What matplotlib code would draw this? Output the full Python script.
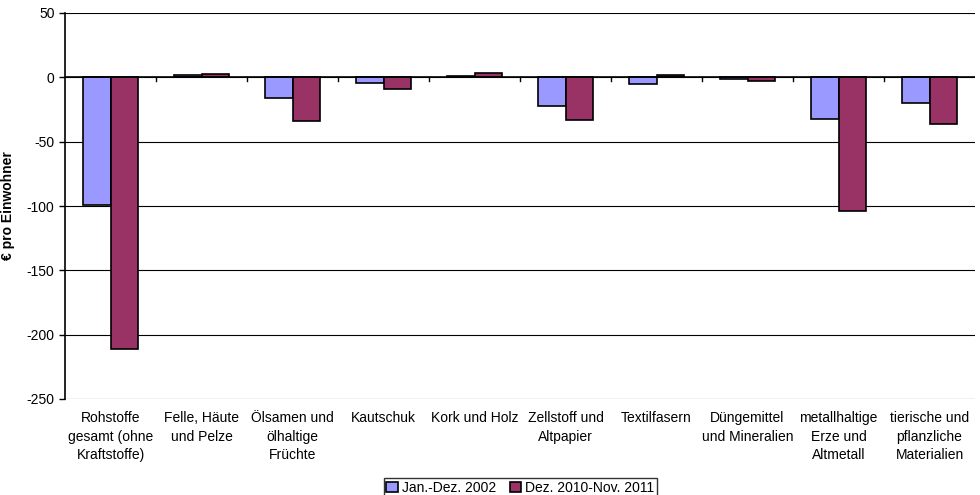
import numpy as np
import matplotlib.pyplot as plt

categories = ['Rohstoffe\ngesamt (ohne\nKraftstoffe)', 'Felle, Häute\nund Pelze',
              'Ölsamen und\nölhaltige\nFrüchte', 'Kautschuk', 'Kork und Holz',
              'Zellstoff und\nAltpapier', 'Textilfasern', 'Düngemittel\nund Mineralien',
              'metallhaltige\nErze und\nAltmetall', 'tierische und\npflanzliche\nMaterialien']
jan_2002 = [-99, 1.5, -16, -4.5, 1, -22, -5, -1.5, -32, -20]
dez_2010 = [-211, 2.5, -34, -9, 3, -33, 2, -2.5, -104, -36]

plt.rcParams['font.family'] = ['Liberation Sans', 'DejaVu Sans']
plt.rcParams['axes.unicode_minus'] = False
fig = plt.figure(figsize=(9.8, 4.95), dpi=100)
ax = fig.add_axes([65/980, 1-399/495, 910/980, 386/495])

x = np.arange(len(categories))
w = 0.3
ax.bar(x - w/2, jan_2002, w, color='#9999FF', edgecolor='black', linewidth=1.2,
       label='Jan.-Dez. 2002', zorder=3)
ax.bar(x + w/2, dez_2010, w, color='#993366', edgecolor='black', linewidth=1.2,
       label='Dez. 2010-Nov. 2011', zorder=3)

ax.set_ylim(-250, 50)
ax.set_xlim(-0.5, len(categories) - 0.5)
ax.set_yticks(np.arange(-250, 51, 50))
ax.yaxis.grid(True, color='black', linewidth=0.8)
ax.set_axisbelow(True)
for s in ['top', 'right', 'bottom']:
    ax.spines[s].set_visible(False)
ax.spines['left'].set_linewidth(1.2)
ax.axhline(0, color='black', linewidth=1.2, zorder=4)
ax.tick_params(axis='y', labelsize=10, length=4, width=1)
ax.set_ylabel('€ pro Einwohner', fontsize=10, fontweight='bold', labelpad=8)

# category labels below the plot, boundary ticks on the zero line
ax.set_xticks([])
for i, c in enumerate(categories):
    ax.text(i, -259, c, ha='center', va='top', fontsize=10, linespacing=1.45)
for b in np.arange(0.5, len(categories) - 0.5):
    ax.plot([b, b], [0, -2.5], color='black', linewidth=1, zorder=4, clip_on=False)

leg = fig.legend(loc='upper center', bbox_to_anchor=(0.531, 1 - 471/495), ncol=2, fontsize=10,
                 frameon=True, fancybox=False, edgecolor='black', handlelength=0.8,
                 handleheight=0.8, handletextpad=0.3, columnspacing=1.0, borderpad=0.2)
leg.get_frame().set_linewidth(1)

fig.savefig('out.png', dpi=100)
